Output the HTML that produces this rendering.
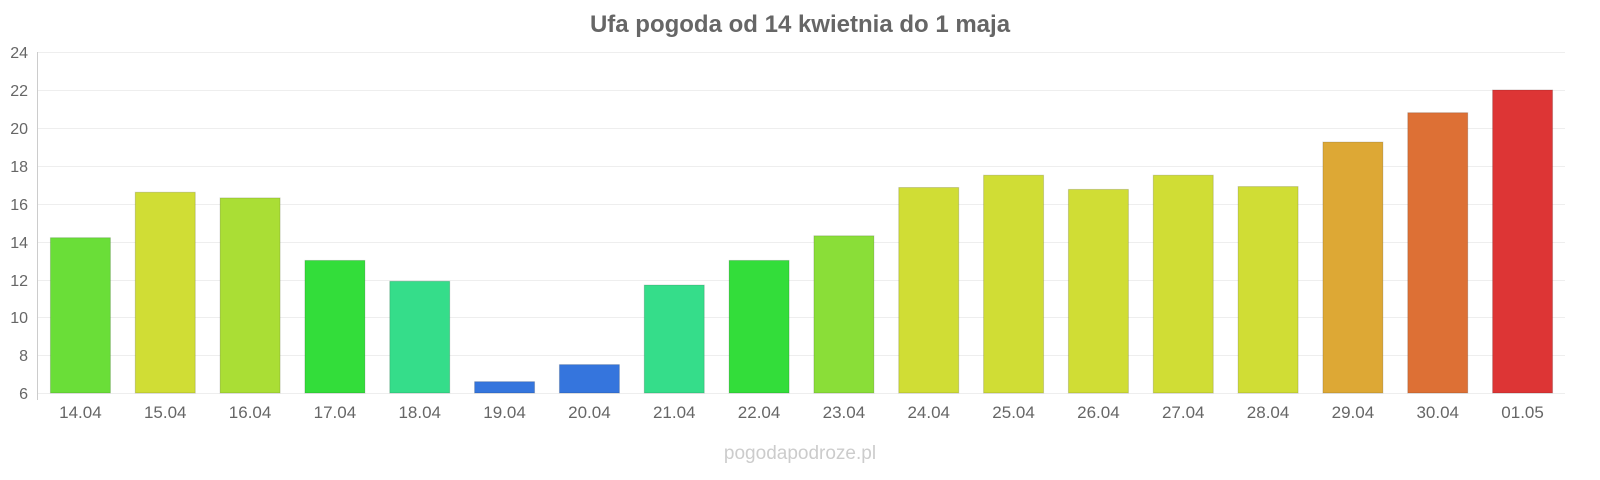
<!DOCTYPE html>
<html><head><meta charset="utf-8"><style>
html,body{margin:0;padding:0;background:#fff;overflow:hidden;width:1600px;height:480px;}
svg{display:block;font-family:"Liberation Sans",sans-serif;}
</style></head><body>
<svg width="1600" height="480" viewBox="0 0 1600 480" xmlns="http://www.w3.org/2000/svg">
<text x="800" y="32" text-anchor="middle" font-size="24" font-weight="bold" fill="#666">Ufa pogoda od 14 kwietnia do 1 maja</text>
<g stroke="#eee" stroke-width="1">
<line x1="38" x2="1565" y1="52.5" y2="52.5"/>
<line x1="38" x2="1565" y1="90.5" y2="90.5"/>
<line x1="38" x2="1565" y1="128.5" y2="128.5"/>
<line x1="38" x2="1565" y1="166.5" y2="166.5"/>
<line x1="38" x2="1565" y1="204.5" y2="204.5"/>
<line x1="38" x2="1565" y1="242.5" y2="242.5"/>
<line x1="38" x2="1565" y1="280.5" y2="280.5"/>
<line x1="38" x2="1565" y1="317.5" y2="317.5"/>
<line x1="38" x2="1565" y1="355.5" y2="355.5"/>
<line x1="38" x2="1565" y1="393.5" y2="393.5"/>
</g>
<line x1="37.5" x2="37.5" y1="52" y2="400" stroke="#ccc"/>
<g font-size="16" fill="#666" text-anchor="end">
<text x="28" y="58">24</text><text x="28" y="96">22</text><text x="28" y="134">20</text>
<text x="28" y="172">18</text><text x="28" y="210">16</text><text x="28" y="248">14</text>
<text x="28" y="286">12</text><text x="28" y="323">10</text><text x="28" y="361">8</text>
<text x="28" y="399">6</text>
</g>
<g id="bars"></g>
<g id="labels" font-size="17" fill="#666" text-anchor="middle"></g>
<text x="800" y="459" text-anchor="middle" font-size="19" fill="#ccc">pogodapodroze.pl</text>
<script>
var v=[14.2,16.6,16.3,13.0,11.9,6.6,7.5,11.7,13.0,14.3,16.85,17.5,16.75,17.5,16.9,19.25,20.8,22.0];
var c=["#6ade38","#d0dd35","#aade35","#33dd3a","#35dd8a","#3575dd","#3575dd","#35dd8a","#33dd3a","#8ade38","#d0dd35","#d0dd35","#d0dd35","#d0dd35","#d0dd35","#dda835","#dd7035","#dd3535"];
var l=["14.04","15.04","16.04","17.04","18.04","19.04","20.04","21.04","22.04","23.04","24.04","25.04","26.04","27.04","28.04","29.04","30.04","01.05"];
var ns="http://www.w3.org/2000/svg",b=document.getElementById("bars"),t=document.getElementById("labels");
var w=(1565-38)/18;
for(var i=0;i<18;i++){var cx=38+w*(i+0.5),y=393-(v[i]-6)*18.94;
var r=document.createElementNS(ns,"rect");r.setAttribute("x",cx-30);r.setAttribute("width",60);r.setAttribute("y",y);r.setAttribute("height",393-y);r.setAttribute("fill",c[i]);r.setAttribute("stroke","rgba(0,0,0,0.15)");b.appendChild(r);
var s=document.createElementNS(ns,"text");s.setAttribute("x",cx);s.setAttribute("y",418);s.textContent=l[i];t.appendChild(s);}
</script>
</svg>
</body></html>
